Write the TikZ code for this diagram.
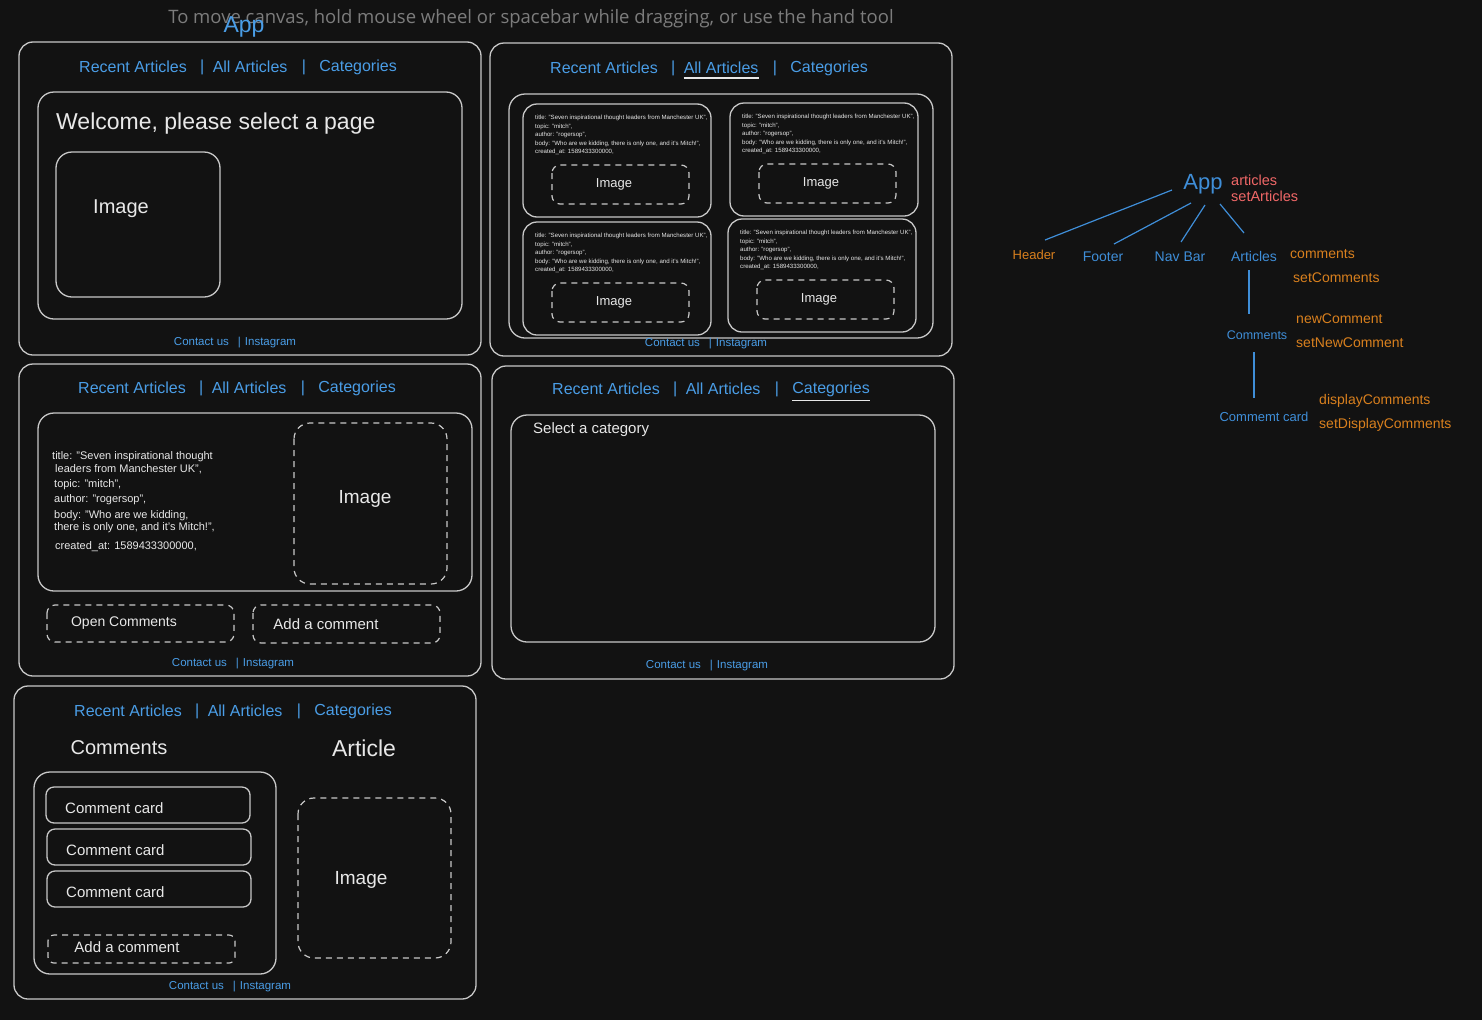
\documentclass[tikz,border=0pt]{standalone}
\usepackage{fontspec}
\setmainfont{Liberation Sans}
\newfontfamily\hintfont{Open Sans}
\usepackage{xcolor}
\usepackage{tikz}
\usetikzlibrary{positioning}
\usetikzlibrary{calc}
\definecolor{bgcol}{HTML}{121212}
\definecolor{linecol}{HTML}{C8C8C8}
\definecolor{inkcol}{HTML}{E8E8E8}
\definecolor{navcol}{HTML}{4A9DE6}
\definecolor{treecol}{HTML}{3F8ED8}
\definecolor{propcol}{HTML}{D9801E}
\definecolor{statecol}{HTML}{F06767}
\definecolor{hintcol}{HTML}{7C7C7C}
\tikzstyle{panel}=[draw=linecol,line width=1.3pt,rounded corners=14pt]
\tikzstyle{innerbox}=[draw=linecol,line width=1.3pt,rounded corners=16pt]
\tikzstyle{cardbox}=[draw=linecol,line width=1.3pt,rounded corners=8pt]
\tikzstyle{dashbox}=[draw=linecol,line width=1.2pt,rounded corners=12pt,dash pattern=on 6pt off 5pt]
\tikzstyle{navline}=[draw=inkcol,line width=1.5pt]
\tikzstyle{nav}=[text=navcol,inner sep=0pt,font=\fontsize{16}{18}\selectfont]
\tikzstyle{foot}=[text=navcol,inner sep=0pt,font=\fontsize{11.5}{13}\selectfont]
\tikzstyle{ink}=[text=inkcol,inner sep=0pt]
\tikzstyle{treeedge}=[draw=treecol,line width=1.2pt]
\tikzstyle{treelabel}=[text=treecol,inner sep=0pt,font=\fontsize{14}{16}\selectfont]
\tikzstyle{proplabel}=[text=propcol,inner sep=0pt,anchor=west,font=\fontsize{14}{16}\selectfont]
\tikzstyle{statelabel}=[text=statecol,inner sep=0pt,anchor=west,font=\fontsize{14.5}{16}\selectfont]
\tikzset{tiny/.style={ink,anchor=north west,align=left,font=\fontsize{6.1}{8.5}\selectfont}}

\newcommand{\cardtext}{title: "Seven inspirational thought leaders from Manchester UK",\\
topic: "mitch",\\ author: "rogersop",\\
body: "Who are we kidding, there is only one, and it's Mitch!",\\
created\_at: 1589433300000,}

% nav bar: #1 prefix, #2 x, #3 y
\newcommand{\navbar}[3]{%
  \node[nav,anchor=west] (#1rec) at (#2,#3) {Recent Articles};
  \node[nav,right=13pt of #1rec] (#1sa) {|};
  \node[nav,right=8pt of #1sa] (#1all) {All Articles};
  \node[nav,right=14pt of #1all] (#1sb) {|};
  \node[nav,right=13pt of #1sb] (#1cat) {Categories};
}

\begin{document}
\begin{tikzpicture}[x=1pt,y=-1pt]

 \useasboundingbox (0,0) rectangle (1482,1020);
 \fill[bgcol] (0,0) rectangle (1482,1020);

 \node[text=hintcol,font=\hintfont\fontsize{18.5}{20}\selectfont] (hint) at (531,19)
   {To move canvas, hold mouse wheel or spacebar while dragging, or use the hand tool};
 \node[text=navcol,inner sep=0pt,font=\fontsize{23}{25}\selectfont] (apptitle) at (244,27) {App};

 %P1 home
 \draw[panel] (19,42) rectangle (481,355);
 \navbar{pa}{79}{67}
 \draw[innerbox] (38,92) rectangle (462,319);
 \node[ink,anchor=west,font=\fontsize{23}{25}\selectfont] (pawelcome) at (56,124) {Welcome, please select a page};
 \draw[innerbox] (56,152) rectangle (220,297);
 \node[ink,font=\fontsize{20}{22}\selectfont] (paimage) at (121,209) {Image};
 \node[foot] (pafoot) at (235,343) {Contact us\hspace{9pt}|\hspace{4pt}Instagram};

 %P2 all articles
 \draw[panel] (490,43) rectangle (952,356);
 \navbar{pb}{550}{68}
 \draw[navline] ([yshift=-4pt]pball.south west) -- ([yshift=-4pt]pball.south east);
 \draw[innerbox] (509,94) rectangle (933,338);

  \foreach \x/\y/\name in {523/104/ca, 730/103/cb, 523/222/cc, 728/219/cd}
  {
   \draw[innerbox,rounded corners=14pt] (\x,\y) rectangle (\x+188,\y+113);
   \node[tiny] (\name text) at (\x+12,\y+11) {\cardtext};
   \draw[dashbox,rounded corners=8pt] (\x+29,\y+61) rectangle (\x+166,\y+100);
   \node[ink,font=\fontsize{13}{15}\selectfont] (\name img) at (\x+91,\y+80) {Image};
  }
 \node[foot] (pbfoot) at (706,344) {Contact us\hspace{9pt}|\hspace{4pt}Instagram};

 %P3 single article
 \draw[panel] (19,364) rectangle (481,676);
 \navbar{pc}{78}{388}
 \draw[innerbox] (38,413) rectangle (472,591);

  \foreach \x/\y/\name/\label in {52/457/ln1/{title: "Seven inspirational thought},
     55/469/ln2/{leaders from Manchester UK",}, 54/485/ln3/{topic: "mitch",},
     54/500/ln4/{author: "rogersop",}, 54/516/ln5/{body: "Who are we kidding,},
     54/528/ln6/{there is only one, and it's Mitch!",}, 55/547/ln7/{created\_at: 1589433300000,}}
          \node[ink,anchor=west,font=\fontsize{11}{12}\selectfont] (pc\name) at (\x,\y) {\label};

 \draw[dashbox,rounded corners=16pt] (294,423) rectangle (447,584);
 \node[ink,font=\fontsize{19}{21}\selectfont] (pcimg) at (365,499) {Image};
 \draw[dashbox,rounded corners=8pt] (47,605) rectangle (234,642);
 \node[ink,font=\fontsize{14}{16}\selectfont] (pcopen) at (124,623) {Open Comments};
 \draw[dashbox,rounded corners=8pt] (253,605) rectangle (440,643);
 \node[ink,font=\fontsize{15}{17}\selectfont] (pcadd) at (326,624) {Add a comment};
 \node[foot] (pcfoot) at (233,664) {Contact us\hspace{9pt}|\hspace{4pt}Instagram};

 %P4 categories
 \draw[panel] (492,366) rectangle (954,679);
 \navbar{pd}{552}{389}
 \draw[navline] ([yshift=-4pt]pdcat.south west) -- ([yshift=-4pt]pdcat.south east);
 \draw[innerbox] (511,415) rectangle (935,642);
 \node[ink,anchor=west,font=\fontsize{15}{17}\selectfont] (pdselect) at (533,430) {Select a category};
 \node[foot] (pdfoot) at (707,666) {Contact us\hspace{9pt}|\hspace{4pt}Instagram};

 %P5 comments
 \draw[panel] (14,686) rectangle (476,999);
 \navbar{pe}{74}{711}
 \node[ink,font=\fontsize{20}{22}\selectfont] (pecomments) at (119,748) {Comments};
 \node[ink,font=\fontsize{23}{25}\selectfont] (pearticle) at (364,748) {Article};
 \draw[innerbox] (34,772) rectangle (276,974);

  \foreach \x/\y/\name in {46/787/ca, 47/829/cb, 47/871/cc}
  {
   \draw[cardbox] (\x,\y) rectangle (\x+204,\y+36);
   \node[ink,anchor=west,font=\fontsize{15}{17}\selectfont] (pe\name) at (\x+19,\y+21) {Comment card};
  }

 \draw[dashbox,rounded corners=6pt] (48,935) rectangle (235,963);
 \node[ink,font=\fontsize{15}{17}\selectfont] (peadd) at (127,947) {Add a comment};
 \draw[dashbox,rounded corners=16pt] (298,798) rectangle (451,958);
 \node[ink,font=\fontsize{19}{21}\selectfont] (peimg) at (361,880) {Image};
 \node[foot] (pefoot) at (230,987) {Contact us\hspace{9pt}|\hspace{4pt}Instagram};

 %component tree
 \node[treelabel,font=\fontsize{22}{24}\selectfont] (app) at (1203,184) {App};
 \node[statelabel] (articles) at (1231,180) {articles};
 \node[statelabel] (setarticles) at (1231,196) {setArticles};

  \foreach \x/\y/\name/\label in {1034/255/header/Header}
          \node[treelabel,text=propcol,font=\fontsize{13}{15}\selectfont] (\name) at (\x,\y) {\label};
  \foreach \x/\y/\name/\label in {1103/257/footer/Footer, 1180/257/navbar/Nav Bar, 1254/256/artlist/Articles}
          \node[treelabel] (\name) at (\x,\y) {\label};
 \node[treelabel,font=\fontsize{12.5}{14}\selectfont] (comments) at (1257,335) {Comments};
 \node[treelabel,font=\fontsize{13}{15}\selectfont] (commentcard) at (1264,417) {Commemt card};

  \foreach \x/\y/\name/\label in {1290/254/pcomm/comments, 1293/278/psetcomm/setComments,
     1296/319/pnew/newComment, 1296/343/psetnew/setNewComment,
     1319/401/pdisp/displayComments, 1319/425/psetdisp/setDisplayComments}
          \node[proplabel] (\name) at (\x,\y) {\label};

 \draw[treeedge] ([shift={(-31,6)}]app.center) -- ([shift={(11,-15)}]header.center);
 \draw[treeedge] ([shift={(-12,19)}]app.center) -- ([shift={(11,-13)}]footer.center);
 \draw[treeedge] ([shift={(2,21)}]app.center) -- ([shift={(1,-15)}]navbar.center);
 \draw[treeedge] ([shift={(17,20)}]app.center) -- ([shift={(-10,-23)}]artlist.center);
 \draw[treeedge] ([shift={(-5,14)}]artlist.center) -- ([shift={(-8,-21)}]comments.center);
 \draw[treeedge] ([shift={(-3,17)}]comments.center) -- ([shift={(-10,-19)}]commentcard.center);

\end{tikzpicture}
\end{document}
